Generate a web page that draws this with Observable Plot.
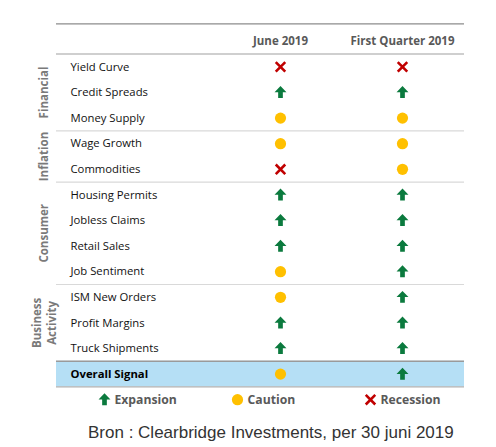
<!DOCTYPE html>
<html>
<head>
<meta charset="utf-8">
<script src="https://cdn.jsdelivr.net/npm/d3@7"></script>
<script src="https://cdn.jsdelivr.net/npm/@observablehq/plot@0.6"></script>
<style>
  body { margin: 0; background: #fff; }
  #caption { margin-top: 9px; padding-left: 88px; font: 17px "Liberation Sans", Arial, sans-serif; line-height: 18px; color: #333; }
</style>
</head>
<body>
<div id="chart"></div>
<div id="caption">Bron : Clearbridge Investments, per 30 juni 2019</div>
<script>
const columns = ["June 2019", "First Quarter 2019"];
const indicators = ["Yield Curve", "Credit Spreads", "Money Supply", "Wage Growth", "Commodities",
  "Housing Permits", "Jobless Claims", "Retail Sales", "Job Sentiment",
  "ISM New Orders", "Profit Margins", "Truck Shipments"];
const groupOf = ["Financial", "Financial", "Financial", "Inflation", "Inflation",
  "Consumer", "Consumer", "Consumer", "Consumer",
  "Business\nActivity", "Business\nActivity", "Business\nActivity"];
const june2019 = ["recession", "expansion", "caution", "caution", "recession",
  "expansion", "expansion", "expansion", "caution",
  "caution", "expansion", "expansion"];
const firstQuarter2019 = ["recession", "expansion", "caution", "caution", "caution",
  "expansion", "expansion", "expansion", "expansion",
  "expansion", "expansion", "expansion"];
const overallLabel = "Overall Signal";
const overallSignal = ["caution", "expansion"];
const signalKeys = ["expansion", "caution", "recession"];
const signalLabels = ["Expansion", "Caution", "Recession"];

const HEADER = "__header", LEGEND = "__legend";
const yDomain = [HEADER, ...indicators, overallLabel, LEGEND];
const H = 415, MT = 28, MB = 3;
const step = (H - MT - MB) / yDomain.length;

// cells
const cells = [];
indicators.forEach((r, i) => {
  cells.push({row: r, col: columns[0], signal: june2019[i]});
  cells.push({row: r, col: columns[1], signal: firstQuarter2019[i]});
});
columns.forEach((c, j) => cells.push({row: overallLabel, col: c, signal: overallSignal[j]}));

// groups
const groups = [];
groupOf.forEach((g, i) => {
  let gr = groups.find(d => d.name === g);
  if (!gr) { gr = {name: g, first: i, last: i}; groups.push(gr); } else gr.last = i;
});
groups.forEach(g => {
  const m = (g.first + g.last) / 2;
  g.row = indicators[Math.floor(m)];
  g.half = m !== Math.floor(m);
});
const boundaries = groups.slice(0, -1).map(g => indicators[g.last]);

// symbols
const arrowUp = {
  draw(ctx, size) {
    const h = Math.sqrt(size);
    ctx.moveTo(0, -0.6 * h);
    ctx.lineTo(0.56 * h, -0.02 * h);
    ctx.lineTo(0.22 * h, -0.02 * h);
    ctx.lineTo(0.22 * h, 0.52 * h);
    ctx.lineTo(-0.22 * h, 0.52 * h);
    ctx.lineTo(-0.22 * h, -0.02 * h);
    ctx.lineTo(-0.56 * h, -0.02 * h);
    ctx.closePath();
  }
};
const symStyle = {
  expansion: {symbol: arrowUp, fill: "#0b7a3e", r: 6},
  caution: {symbol: "circle", fill: "#ffc000", r: 5.6},
  recession: {symbol: "times", stroke: "#c00000", strokeWidth: 2.6, r: 4.4}
};

const font = "'Open Sans', 'Noto Sans', sans-serif";
const marks = [
  Plot.cell([overallLabel], {y: d => d, fill: "#b5dff5"}),
  Plot.ruleY([HEADER], {y: d => d, dy: -17.5, stroke: "#8c8c8c", strokeWidth: 1.3}),
  Plot.ruleY([HEADER], {y: d => d, dy: step / 2, stroke: "#cfcfcf", strokeWidth: 2}),
  Plot.ruleY(boundaries, {y: d => d, dy: step / 2, stroke: "#d9d9d9", strokeWidth: 1.2}),
  Plot.ruleY([overallLabel], {y: d => d, dy: -step / 2, stroke: "#9a9a9a", strokeWidth: 1.4}),
  Plot.ruleY([overallLabel], {y: d => d, dy: step / 2, stroke: "#b0b0b0", strokeWidth: 1.4}),
  Plot.text(columns, {x: d => d, y: () => HEADER, text: d => d, fontWeight: "bold", fontSize: 11.5, fill: "#595959"}),
  Plot.text(indicators, {y: d => d, text: d => d, frameAnchor: "left", textAnchor: "start", dx: 14, fontSize: 11.3, fill: "#111"}),
  Plot.text([overallLabel], {y: d => d, text: d => d, frameAnchor: "left", textAnchor: "start", dx: 14, fontSize: 11.3, fontWeight: "bold", fill: "#000"}),
  Plot.text(groups.filter(g => !g.half), {y: "row", text: "name", frameAnchor: "left", textAnchor: "middle", dx: -13, rotate: -90, fontSize: 11.5, fontWeight: "bold", fill: "#7a7a7a", lineHeight: 1.3}),
  Plot.text(groups.filter(g => g.half), {y: "row", text: "name", frameAnchor: "left", textAnchor: "middle", dx: -13, dy: step / 2, rotate: -90, fontSize: 11.5, fontWeight: "bold", fill: "#7a7a7a", lineHeight: 1.3})
];
signalKeys.forEach(k => {
  marks.push(Plot.dot(cells.filter(c => c.signal === k), {x: "col", y: "row", ...symStyle[k]}));
});
// legend
const legendDx = [48, 181, 314];
signalKeys.forEach((k, i) => {
  marks.push(Plot.dot([k], {y: () => LEGEND, frameAnchor: "left", dx: legendDx[i], ...symStyle[k]}));
  marks.push(Plot.text([signalLabels[i]], {y: () => LEGEND, text: d => d, frameAnchor: "left", textAnchor: "start", dx: legendDx[i] + 10, fontSize: 12.2, fontWeight: "bold", fill: "#595959"}));
});

const chart = Plot.plot({
  width: 496,
  height: H,
  marginTop: MT,
  marginBottom: MB,
  marginLeft: 56,
  marginRight: 32,
  style: {fontFamily: font, background: "#fff"},
  x: {type: "point", domain: columns, range: [280, 402], padding: 0, round: false, axis: null},
  y: {type: "band", domain: yDomain, padding: 0, round: false, axis: null},
  marks
});
document.getElementById("chart").appendChild(chart);
</script>
</body>
</html>
